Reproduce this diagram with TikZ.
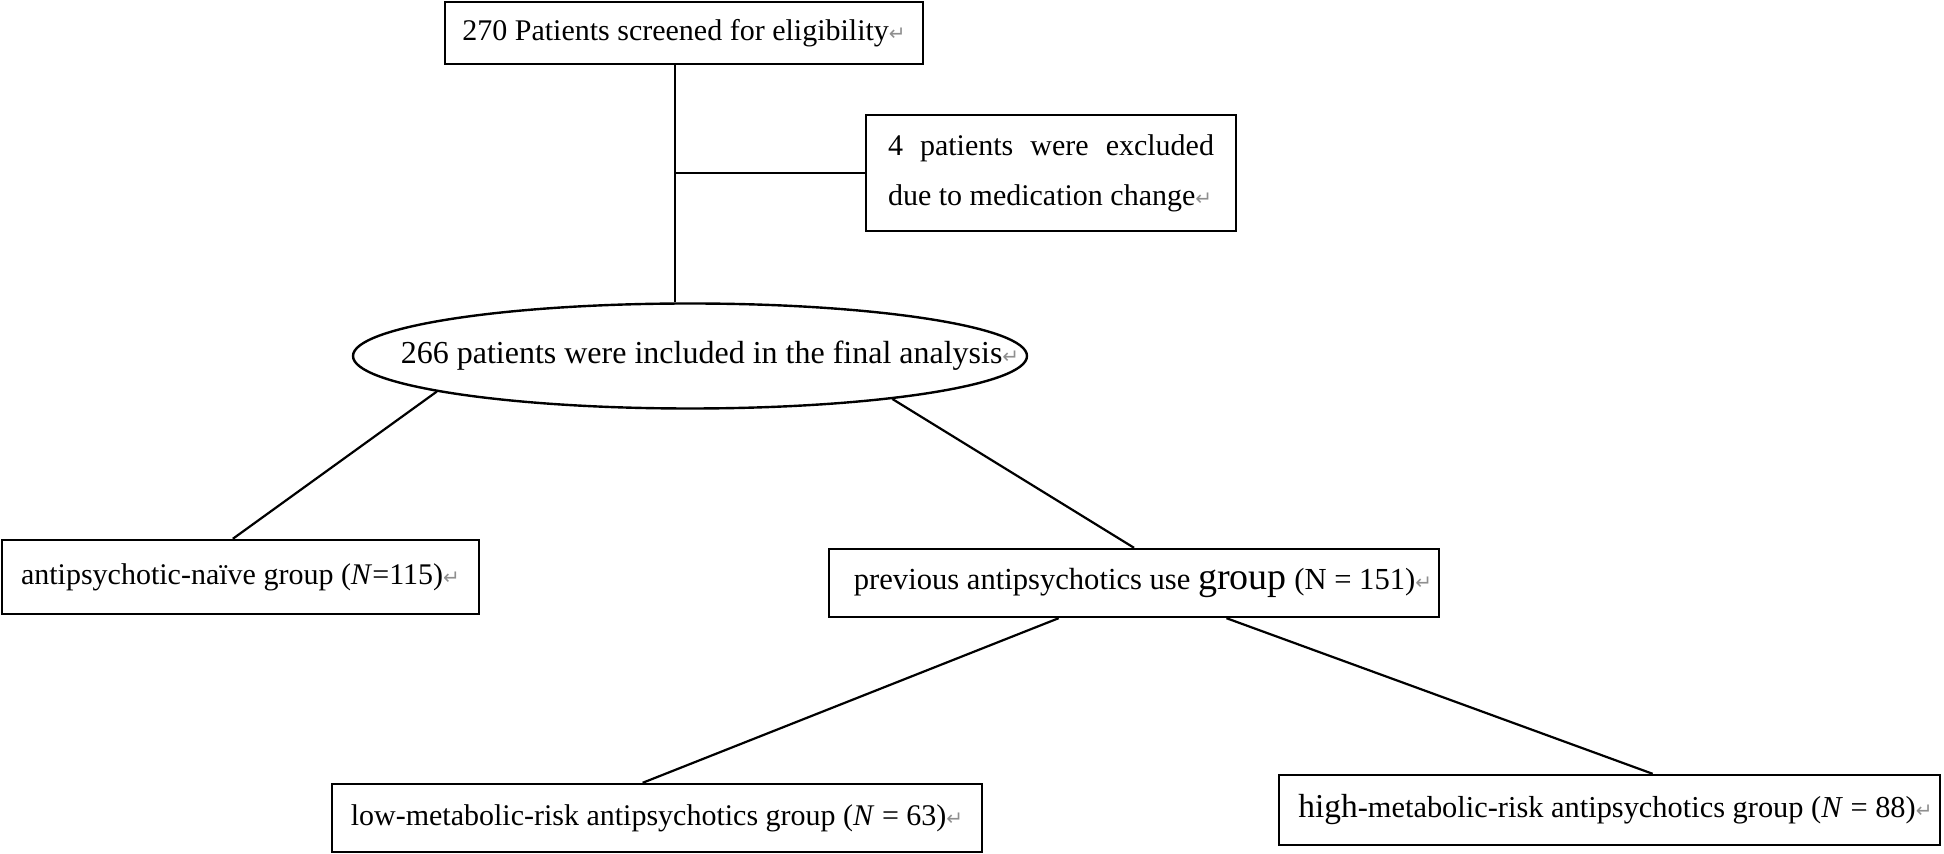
\documentclass[tikz,border=0pt]{standalone}
\usepackage{fontspec}
\setmainfont{Liberation Serif}
\newfontfamily\markfont{DejaVu Sans}
\usetikzlibrary{shapes.geometric,calc}

\newlength{\du}
\setlength{\du}{0.5pt}
\definecolor{markcolor}{rgb}{0.560000, 0.560000, 0.560000}
% paragraph mark left by the word processor
\newcommand{\pmark}{{\markfont\color{markcolor}\fontsize{10}{12}\selectfont ↵}}

\tikzset{
  flowbox/.style={draw, line width=1.2pt, inner sep=0pt, align=center,
    font=\fontsize{15}{18}\selectfont},
  flowoval/.style={flowbox, ellipse},
  flowline/.style={line width=1.1pt},
}

\begin{document}
\begin{tikzpicture}
\pgftransformyscale{-1.000000}
\useasboundingbox (0\du,0\du) rectangle (1944\du,854\du);

\node[flowbox, minimum width=478\du, minimum height=62\du] (screened) at (684\du,33\du)
  {270 Patients screened for eligibility\pmark};
\node[flowbox, minimum width=370\du, minimum height=116\du, align=left] (excluded) at (1051\du,173\du)
  {\hbox to 163pt{4\hfill patients\hfill were\hfill excluded}\\[7pt]\hbox to 163pt{due to medication change\pmark\hss}};
% text kept out of the size so the oval keeps its own width
\node[flowoval, minimum width=674\du, minimum height=105\du] (included) at (690\du,356\du)
  {\makebox[0pt]{\hspace{40\du}\fontsize{16}{18}\selectfont 266 patients were included in the final analysis\pmark}};

% first split
\node[flowbox, minimum width=477\du, minimum height=74\du] (naive) at (240.5\du,577\du)
  {antipsychotic-na\"ive group (\textit{N}=115)\pmark};
\node[flowbox, minimum width=610\du, minimum height=68\du, font=\fontsize{15.3}{18}\selectfont] (previous) at (1134\du,583\du)
  {\hspace{18\du}previous antipsychotics use {\fontsize{19}{18}\selectfont group} (N = 151)\pmark};

% second split
\node[flowbox, minimum width=650\du, minimum height=68\du] (lowrisk) at (657\du,818\du)
  {low-metabolic-risk antipsychotics group (\textit{N} = 63)\pmark};
\node[flowbox, minimum width=661\du, minimum height=70\du, font=\fontsize{15.2}{18}\selectfont] (highrisk) at (1609.5\du,810\du)
  {\hspace{12\du}{\fontsize{16.7}{18}\selectfont high}-metabolic-risk antipsychotics group (\textit{N} = 88)\pmark};

\coordinate (stem) at ($(screened.south west)!0.481!(screened.south east)$);
\draw[flowline] (stem) -- (stem |- included.north);
\draw[flowline] (excluded.west) -- (excluded.west -| stem);
\draw[flowline] (included.188) -- ($(naive.north west)!0.484!(naive.north east)$);
\draw[flowline] (included.348) -- (previous.north);
\draw[flowline] ($(previous.south west)!0.377!(previous.south east)$) -- ($(lowrisk.north west)!0.478!(lowrisk.north east)$);
\draw[flowline] ($(previous.south west)!0.651!(previous.south east)$) -- ($(highrisk.north west)!0.565!(highrisk.north east)$);
\end{tikzpicture}
\end{document}
